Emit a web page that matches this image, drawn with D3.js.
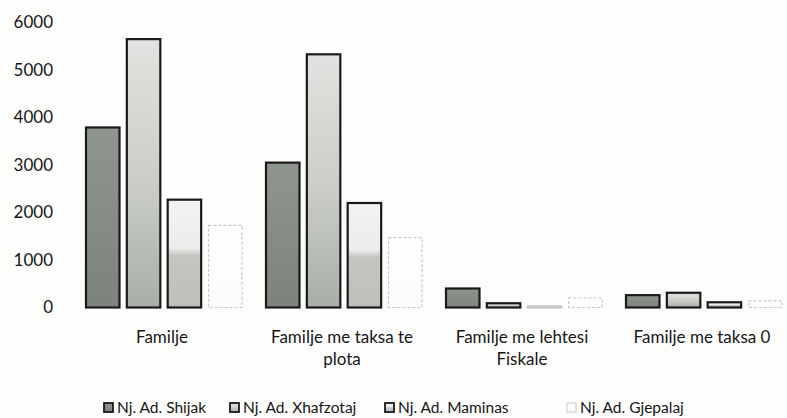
<!DOCTYPE html>
<html lang="sq">
<head>
    <meta charset="UTF-8">
    <title>Familje sipas njësive administrative</title>
    <script src="https://d3js.org/d3.v7.min.js"></script>
    <style>
        body { margin: 0; background: #fdfdfc; }
        text { font-family: Lato, "Open Sans", sans-serif; fill: #161616; }
    </style>
</head>
<body>
    <div id="chart"></div>

    <script>
        // Të dhënat
        const categories = [
            ["Familje"],
            ["Familje me taksa te", "plota"],
            ["Familje me lehtesi", "Fiskale"],
            ["Familje me taksa 0"]
        ];
        const seriesNames = ["Nj. Ad. Shijak", "Nj. Ad. Xhafzotaj", "Nj. Ad. Maminas", "Nj. Ad. Gjepalaj"];
        const shijak    = [3790, 3050, 400, 260];
        const xhafzotaj = [5650, 5330, 90, 310];
        const maminas   = [2270, 2200, 25, 110];
        const gjepalaj  = [1730, 1470, 200, 140];
        const yTicks = [0, 1000, 2000, 3000, 4000, 5000, 6000];

        const values = [shijak, xhafzotaj, maminas, gjepalaj];
        const catKeys = categories.map(c => c.join(" "));

        const width = 787, height = 418;
        const svg = d3.select("#chart").append("svg")
            .attr("width", width)
            .attr("height", height);

        // gradientet (imitojnë skanimin)
        const defs = svg.append("defs");
        const grads = [
            { id: "g0", stops: [["0%", "#8f968f"], ["100%", "#7c837c"]] },
            { id: "g1", stops: [["0%", "#e2e3e0"], ["55%", "#c9ccc7"], ["100%", "#a9aea8"]] },
            { id: "g2", stops: [["0%", "#f3f3f2"], ["45%", "#ecedeb"], ["52%", "#c3c6c1"], ["100%", "#bcbfba"]] },
            { id: "g3", stops: [["0%", "#ffffff"], ["100%", "#fbfbfb"]] }
        ];
        grads.forEach(g => {
            const lg = defs.append("linearGradient").attr("id", g.id)
                .attr("x1", 0).attr("y1", 0).attr("x2", 0).attr("y2", 1);
            g.stops.forEach(s => lg.append("stop").attr("offset", s[0]).attr("stop-color", s[1]));
        });
        const strokes = ["#1a1a1a", "#1a1a1a", "#1a1a1a", "#c8c8c8"];
        const dashes = [null, null, null, "3,2"];

        // Shkallët
        const x0 = d3.scaleBand().domain(catKeys).range([72, 792]);
        const x1 = d3.scaleBand().domain(seriesNames).range([14, 170]).paddingInner(0.18);
        const y = d3.scaleLinear().domain([0, 6000]).range([307.5, 22.5]);

        // Boshti Y
        const yAxis = svg.append("g")
            .attr("transform", "translate(53,0)")
            .call(d3.axisLeft(y).tickValues(yTicks).tickSize(0).tickPadding(0).tickFormat(d3.format("d")));
        yAxis.select(".domain").remove();
        yAxis.selectAll("text").style("font-size", "17px").attr("fill", "#161616");

        // Shtyllat
        const groups = svg.selectAll(".grp")
            .data(catKeys)
            .enter().append("g")
            .attr("class", "grp")
            .attr("transform", d => `translate(${x0(d)},0)`);

        groups.selectAll("rect")
            .data((d, i) => seriesNames.map((s, j) => ({ s: s, j: j, v: values[j][i] })))
            .enter().append("rect")
            .attr("x", d => x1(d.s))
            .attr("y", d => y(d.v))
            .attr("width", x1.bandwidth())
            .attr("height", d => y(0) - y(d.v))
            .attr("fill", d => `url(#g${d.j})`)
            .attr("stroke", d => (d.j === 2 && d.v < 50) ? "#c8c8c8" : strokes[d.j])
            .attr("stroke-width", d => d.j === 3 ? 1.2 : 2.2)
            .attr("stroke-dasharray", d => dashes[d.j]);

        // Etiketat e kategorive
        const xAxis = svg.append("g");
        categories.forEach((lines, i) => {
            const cx = x0(catKeys[i]) + x0.bandwidth() / 2;
            const t = xAxis.append("text")
                .attr("x", cx)
                .attr("y", 343)
                .attr("text-anchor", "middle")
                .style("font-size", "17px");
            lines.forEach((l, k) => {
                t.append("tspan")
                    .attr("x", cx)
                    .attr("dy", k === 0 ? 0 : 22)
                    .text(l);
            });
        });

        // Legjenda
        const legendX = [104, 230, 385, 567];
        const legend = svg.append("g").attr("transform", "translate(0,408)");
        seriesNames.forEach((s, j) => {
            legend.append("rect")
                .attr("x", legendX[j]).attr("y", -5)
                .attr("width", 9).attr("height", 9)
                .attr("fill", `url(#g${j})`)
                .attr("stroke", strokes[j])
                .attr("stroke-width", j === 3 ? 1 : 1.8);
            legend.append("text")
                .attr("x", legendX[j] + 13)
                .attr("y", 5)
                .style("font-size", "15.5px")
                .text(s);
        });
    </script>
</body>
</html>
